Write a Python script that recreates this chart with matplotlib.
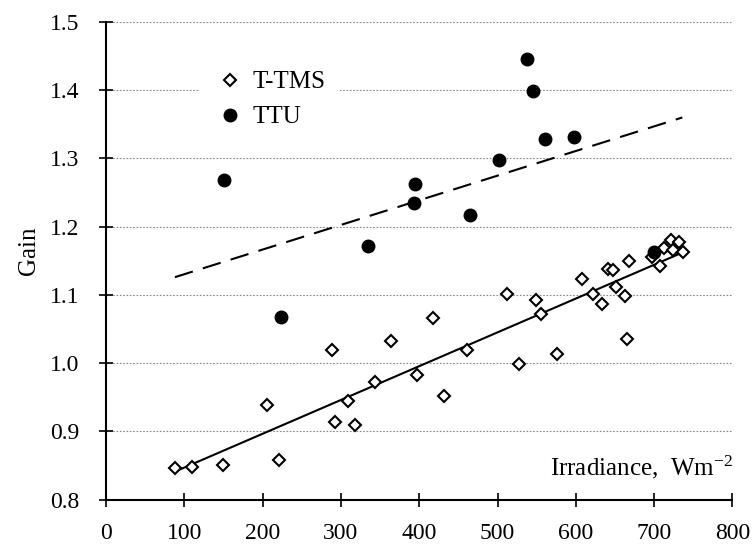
import matplotlib
matplotlib.use("Agg")
import matplotlib.pyplot as plt

plt.rcParams["font.family"] = ["Liberation Serif", "DejaVu Serif"]
plt.rcParams["mathtext.fontset"] = "custom"
plt.rcParams["mathtext.rm"] = "Liberation Serif"
plt.rcParams["mathtext.default"] = "regular"

# T-TMS (open diamonds)
ttms_x = [88, 110, 149, 205, 221, 289, 293, 309, 318, 343, 364, 397,
          418, 432, 461, 512, 527, 549, 555, 576, 608, 622, 633, 641,
          647, 651, 663, 665, 668, 697, 707, 712, 721, 724, 732, 737]
ttms_y = [0.846, 0.848, 0.851, 0.938, 0.858, 1.019, 0.914, 0.945, 0.909, 0.972, 1.033, 0.983,
          1.066, 0.952, 1.019, 1.102, 0.999, 1.093, 1.072, 1.014, 1.123, 1.102, 1.086, 1.138,
          1.136, 1.111, 1.099, 1.035, 1.150, 1.156, 1.142, 1.169, 1.181, 1.166, 1.177, 1.163]

# TTU (filled circles)
ttu_x = [151, 223, 335, 393, 395, 465, 502, 537, 545, 561, 598, 700]
ttu_y = [1.268, 1.068, 1.172, 1.235, 1.262, 1.217, 1.297, 1.446, 1.399, 1.329, 1.332, 1.163]

# trend lines (end points)
trend_x = [88, 736]
ttms_trend = [0.841, 1.162]
ttu_trend = [1.126, 1.360]

fig = plt.figure(figsize=(7.52, 5.49), dpi=100)
ax = fig.add_axes([0.141, 0.090, 0.833, 0.870])

ax.plot(trend_x, ttms_trend, color="black", lw=1.5, zorder=2)
ax.plot(trend_x, ttu_trend, color="black", lw=1.5, ls=(0, (9, 5)), zorder=2)
ax.plot(ttms_x, ttms_y, ls="none", marker="D", ms=6.5, mfc="white", mec="black",
        mew=1.5, label="T-TMS", zorder=3)
ax.plot(ttu_x, ttu_y, ls="none", marker="o", ms=9, mfc="black", mec="black",
        label="TTU", zorder=4)

ax.set_xlim(0, 800)
ax.set_ylim(0.8, 1.5)
ax.set_xticks(range(0, 801, 100))
ax.set_yticks([0.8, 0.9, 1.0, 1.1, 1.2, 1.3, 1.4, 1.5])
ax.set_yticklabels(["0.8", "0.9", "1.0", "1.1", "1.2", "1.3", "1.4", "1.5"])
ax.tick_params(direction="inout", length=10, width=1.2, labelsize=17)
ax.tick_params(axis="y", pad=14)
ax.tick_params(axis="x", pad=12)
ax.grid(axis="y", ls=(0, (1.5, 1.5)), color="#888888", lw=0.8)
ax.set_axisbelow(True)
for s in ["top", "right"]:
    ax.spines[s].set_visible(False)
for s in ["left", "bottom"]:
    ax.spines[s].set_linewidth(1.5)

ax.set_ylabel("Gain", fontsize=18)
ax.yaxis.set_label_coords(-0.105, 0.52)
ax.text(1.0, 0.068, r"Irradiance,  Wm$^{-2}$", transform=ax.transAxes,
        ha="right", va="center", fontsize=18)

leg = ax.legend(loc="upper left", bbox_to_anchor=(0.13, 0.955), fontsize=18,
                frameon=True, framealpha=1, edgecolor="none", handletextpad=0.3,
                borderpad=0.6, labelspacing=0.5, handlelength=1.2)
leg.get_frame().set_linewidth(0)

fig.savefig("out.png", dpi=100)
